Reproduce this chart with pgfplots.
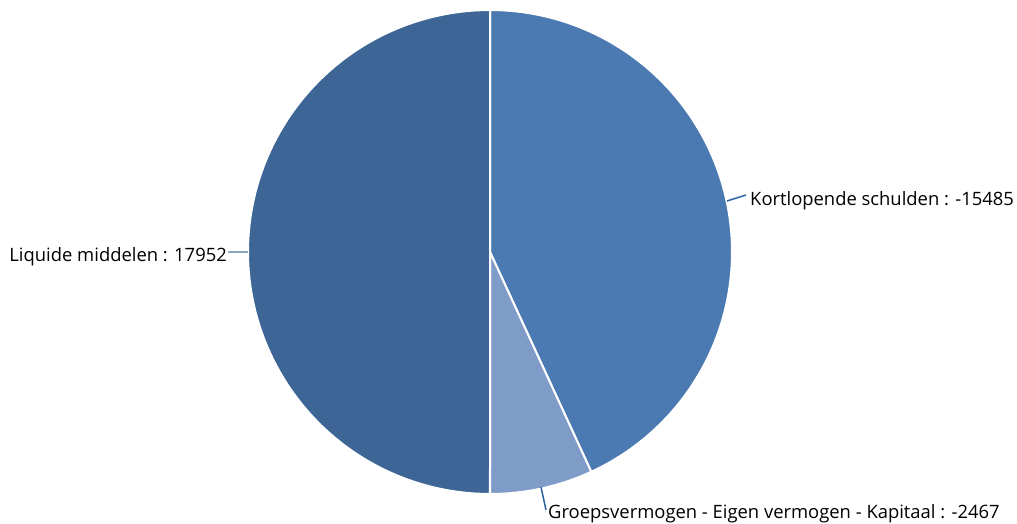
\documentclass[border=0pt]{standalone}
\usepackage{pgfplots}
\pgfplotsset{compat=1.18}
\usepackage{pgfplotstable}
\usepackage{fontspec}
\setmainfont{Open Sans}
\definecolor{cK}{HTML}{4A7AB1}
\definecolor{cG}{HTML}{7F9CC8}
\definecolor{cL}{HTML}{3D6596}
\definecolor{lK}{HTML}{2F63A8}
\definecolor{lL}{HTML}{8DA2BF}
\definecolor{lG}{HTML}{2D5F9E}
\pgfplotstableread{
name value
Kortlopende 15485
Groeps 2467
Liquide 17952
}\piedata
\begin{document}
\begin{tikzpicture}
\pgfplotstablegetelem{0}{value}\of\piedata \let\vA\pgfplotsretval
\pgfplotstablegetelem{1}{value}\of\piedata \let\vB\pgfplotsretval
\pgfplotstablegetelem{2}{value}\of\piedata \let\vC\pgfplotsretval
\edef\aA{90}
\edef\aB{\fpeval{round(90-360*\vA/(\vA+\vB+\vC),4)}}
\edef\aC{\fpeval{round(90-360*(\vA+\vB)/(\vA+\vB+\vC),4)}}
\edef\aD{\fpeval{round(90-360,4)}}
\begin{axis}[
  name=ax,
  x=1pt, y=1pt, scale only axis,
  xmin=0, xmax=1017, ymin=0, ymax=523,
  hide axis, clip=false,
]
\addplot[fill=cK, draw=white, line width=2pt, domain=\aB:\aA, samples=120, variable=\t]
  ({490+242*cos(t)}, {271+242*sin(t)}) -- (axis cs:490,271) -- cycle;
\addplot[fill=cG, draw=white, line width=2pt, domain=\aC:\aB, samples=40, variable=\t]
  ({490+242*cos(t)}, {271+242*sin(t)}) -- (axis cs:490,271) -- cycle;
\addplot[fill=cL, draw=white, line width=2pt, domain=\aD:\aC, samples=120, variable=\t]
  ({490+242*cos(t)}, {271+242*sin(t)}) -- (axis cs:490,271) -- cycle;
% leader lines
\addplot[lK, line width=1.5pt] coordinates {(727,322) (746,328)};
\addplot[lL, line width=1.5pt] coordinates {(228,271) (248,271)};
\addplot[lG, line width=1.5pt] coordinates {(541,36) (546,13)};
\node[anchor=west, inner sep=0pt, font=\fontsize{18.4}{20}\selectfont] at (axis cs:750,322) {Kortlopende schulden : -15485};
\node[anchor=east, inner sep=0pt, font=\fontsize{18.4}{20}\selectfont] at (axis cs:227,266) {Liquide middelen : 17952};
\node[anchor=west, inner sep=0pt, font=\fontsize{18.4}{20}\selectfont] at (axis cs:548,9) {Groepsvermogen - Eigen vermogen - Kapitaal : -2467};
\end{axis}
\pgfresetboundingbox
\path[use as bounding box] (ax.south west) rectangle (ax.north east);
\end{tikzpicture}
\end{document}
